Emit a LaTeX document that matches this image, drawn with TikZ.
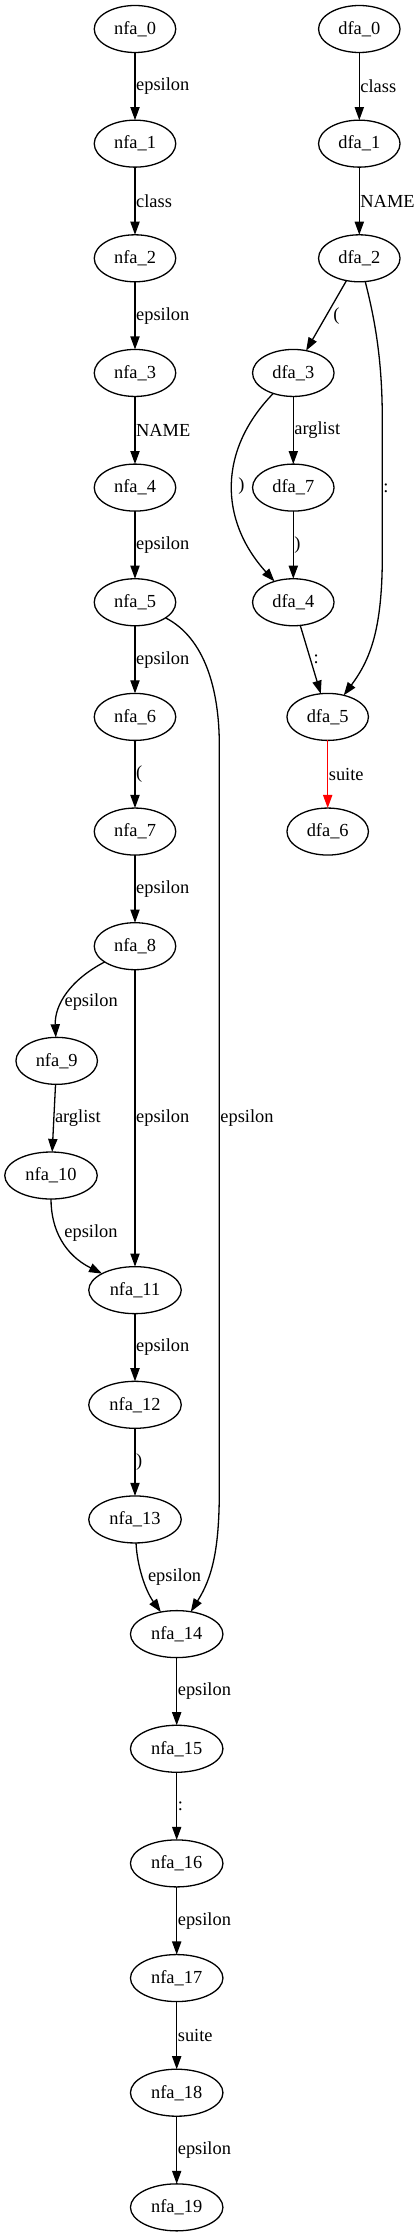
\documentclass[tikz,border=0pt]{standalone}
\usepackage{fontspec}
\setmainfont{Liberation Serif}
\usetikzlibrary{positioning,arrows.meta,shapes.geometric}

\begin{document}
\begin{tikzpicture}[
    x=1pt, y=-1pt,
    state/.style={ellipse, draw, line width=1.3pt, minimum width=81.5pt, minimum height=47pt, inner sep=0pt, outer sep=0pt, font=\fontsize{18.4}{22}\selectfont},
    widestate/.style={state, minimum width=92.5pt},
    trans/.style={-{Triangle[length=13.1pt, width=9.2pt]}, line width=1.3pt},
    lbl/.style={anchor=west, inner sep=0.5pt, text=black, font=\fontsize{18.4}{22}\selectfont},
    node distance=67.65pt
  ]
    \useasboundingbox (0,0) rectangle (420,2237);

    % nfa chain
    \node[state] (nfa_0) at (135,29) {nfa\_0};
    \node[state, below=of nfa_0] (nfa_1) {nfa\_1};
    \node[state, below=of nfa_1] (nfa_2) {nfa\_2};
    \node[state, below=of nfa_2] (nfa_3) {nfa\_3};
    \node[state, below=of nfa_3] (nfa_4) {nfa\_4};
    \node[state, below=of nfa_4] (nfa_5) {nfa\_5};
    \node[state, below=of nfa_5] (nfa_6) {nfa\_6};
    \node[state, below=of nfa_6] (nfa_7) {nfa\_7};
    \node[state, below=of nfa_7] (nfa_8) {nfa\_8};
    \node[state, below=of nfa_8, xshift=-78.3pt] (nfa_9) {nfa\_9};
    \node[widestate, below=of nfa_9, xshift=-5.7pt] (nfa_10) {nfa\_10};
    \node[widestate, below=of nfa_10, xshift=84pt] (nfa_11) {nfa\_11};
    \node[widestate, below=of nfa_11] (nfa_12) {nfa\_12};
    \node[widestate, below=of nfa_12] (nfa_13) {nfa\_13};
    \node[widestate, below=of nfa_13, xshift=41.7pt] (nfa_14) {nfa\_14};
    \node[widestate, below=of nfa_14] (nfa_15) {nfa\_15};
    \node[widestate, below=of nfa_15] (nfa_16) {nfa\_16};
    \node[widestate, below=of nfa_16] (nfa_17) {nfa\_17};
    \node[widestate, below=of nfa_17] (nfa_18) {nfa\_18};
    \node[widestate, below=of nfa_18] (nfa_19) {nfa\_19};

    % dfa
    \node[state] (dfa_0) at (359.3,29) {dfa\_0};
    \node[state, below=of dfa_0] (dfa_1) {dfa\_1};
    \node[state, below=of dfa_1] (dfa_2) {dfa\_2};
    \node[state, below=of dfa_2, xshift=-66pt] (dfa_3) {dfa\_3};
    \node[state, below=of dfa_3] (dfa_7) {dfa\_7};
    \node[state, below=of dfa_7] (dfa_4) {dfa\_4};
    \node[state, below=of dfa_4, xshift=34.4pt] (dfa_5) {dfa\_5};
    \node[state, below=of dfa_5] (dfa_6) {dfa\_6};

    \draw[trans] (nfa_0) -- node[lbl]{epsilon} (nfa_1);
    \draw[trans] (nfa_1) -- node[lbl]{class} (nfa_2);
    \draw[trans] (nfa_2) -- node[lbl]{epsilon} (nfa_3);
    \draw[trans] (nfa_3) -- node[lbl]{NAME} (nfa_4);
    \draw[trans] (nfa_4) -- node[lbl]{epsilon} (nfa_5);
    \draw[trans] (nfa_5) -- node[lbl]{epsilon} (nfa_6);
    \draw[trans] (nfa_5) .. controls (205,638) and (219.3,690) .. (219.3,745)
      -- node[lbl]{epsilon} (219.3,1491) .. controls (219.3,1550) and (212,1578) .. (nfa_14);
    \draw[trans] (nfa_6) -- node[lbl]{(} (nfa_7);
    \draw[trans] (nfa_7) -- node[lbl]{epsilon} (nfa_8);
    \draw[trans] (nfa_8) .. controls (70,980) and (54.5,1005) .. (nfa_9) node[lbl, pos=0.6, xshift=1pt]{epsilon};
    \draw[trans] (nfa_8) -- node[lbl]{epsilon} (nfa_11);
    \draw[trans] (nfa_9) -- node[lbl]{arglist} (nfa_10);
    \draw[trans] (nfa_10) .. controls (51,1230) and (65,1255) .. (nfa_11) node[lbl, pos=0.4, xshift=5pt]{epsilon};
    \draw[trans] (nfa_11) -- node[lbl]{epsilon} (nfa_12);
    \draw[trans] (nfa_12) -- node[lbl]{)} (nfa_13);
    \draw[trans] (nfa_13) .. controls (137,1565) and (145,1590) .. (nfa_14) node[lbl, pos=0.5, xshift=4pt]{epsilon};
    \draw[trans] (nfa_14) -- node[lbl]{epsilon} (nfa_15);
    \draw[trans] (nfa_15) -- node[lbl]{:} (nfa_16);
    \draw[trans] (nfa_16) -- node[lbl]{epsilon} (nfa_17);
    \draw[trans] (nfa_17) -- node[lbl]{suite} (nfa_18);
    \draw[trans] (nfa_18) -- node[lbl]{epsilon} (nfa_19);

    \draw[trans] (dfa_0) -- node[lbl]{class} (dfa_1);
    \draw[trans] (dfa_1) -- node[lbl]{NAME} (dfa_2);
    \draw[trans] (dfa_2) -- node[lbl, xshift=6pt]{(} (dfa_3);
    \draw[trans] (dfa_2) .. controls (375,320) and (382.3,360) .. (382.3,420)
      -- node[lbl]{:} (382.3,556) .. controls (382.3,630) and (370,660) .. (dfa_5);
    \draw[trans] (dfa_3) -- node[lbl]{arglist} (dfa_7);
    \draw[trans] (dfa_3) .. controls (218,450) and (219,520) .. (dfa_4) node[lbl, pos=0.5, xshift=5pt]{)};
    \draw[trans] (dfa_7) -- node[lbl]{)} (dfa_4);
    \draw[trans] (dfa_4) -- node[lbl, xshift=2pt]{:} (dfa_5);
    \draw[trans, red] (dfa_5) -- node[lbl]{suite} (dfa_6);
  \end{tikzpicture}
\end{document}
